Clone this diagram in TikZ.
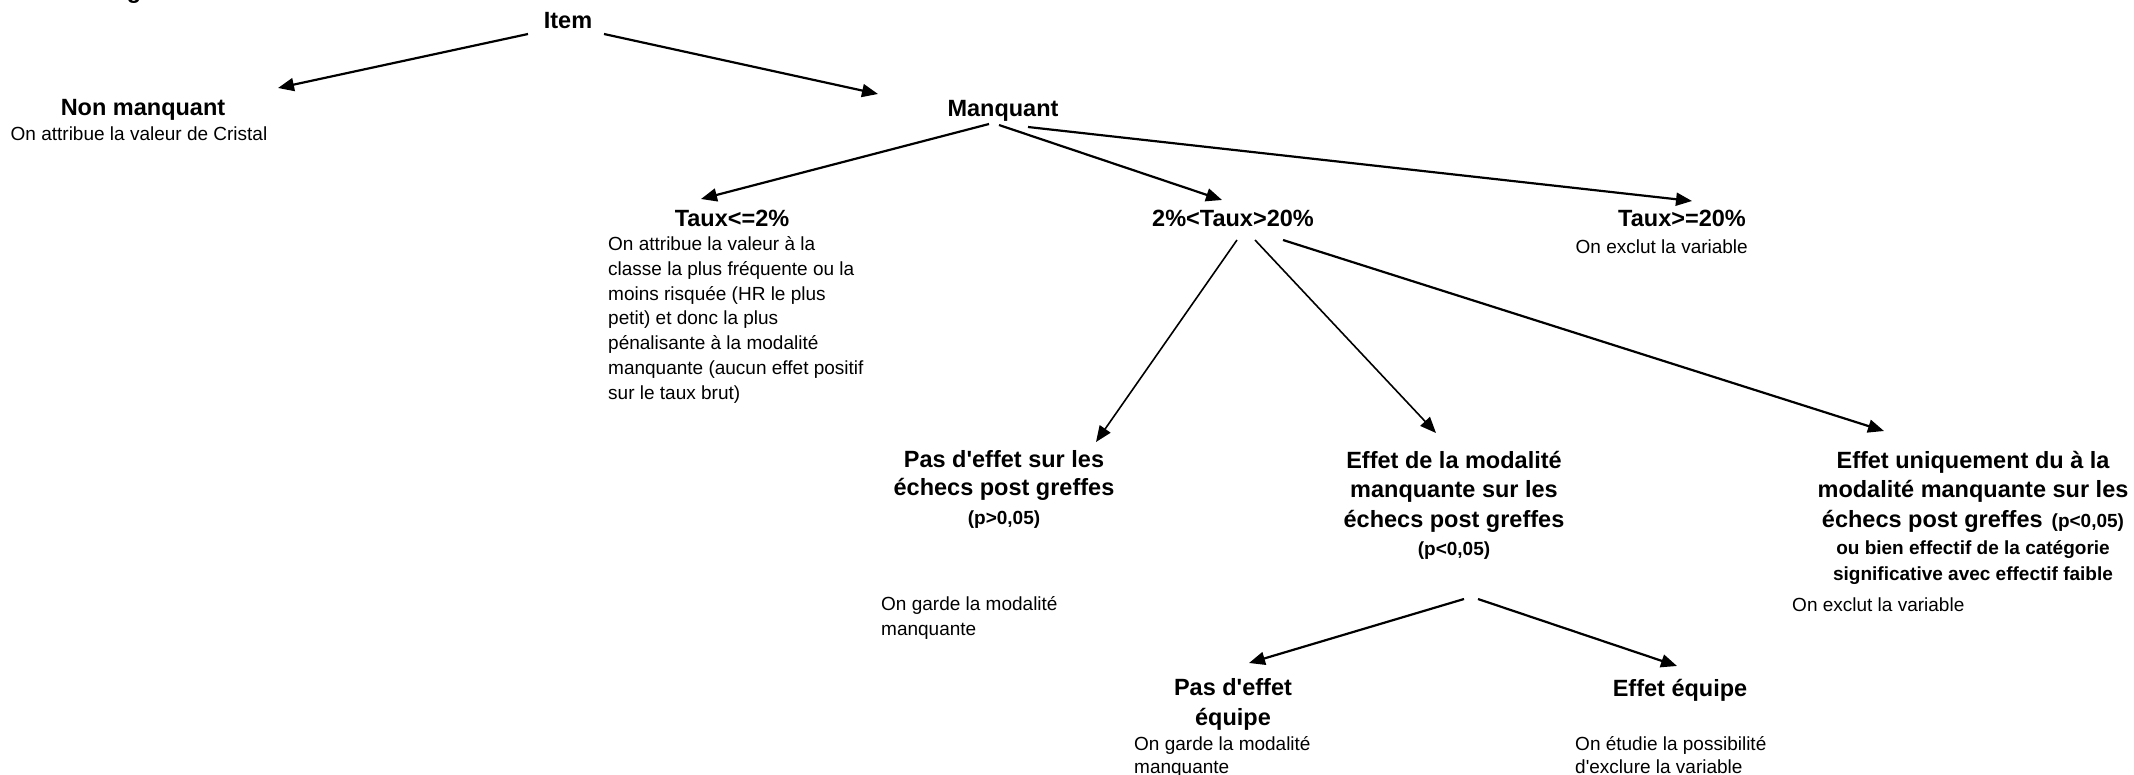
\documentclass[tikz,border=0pt]{standalone}
\usepackage{fontspec}
\setmainfont{Liberation Sans}[Ligatures=TeXOff]
\usetikzlibrary{arrows.meta}
\begin{document}
\begin{tikzpicture}[x=1pt,y=-1pt,
  hd/.style={font=\fontsize{23.5}{29.5}\selectfont\bfseries, inner sep=0pt, align=center, anchor=base},
  bd/.style={font=\fontsize{19}{24.7}\selectfont, inner sep=0pt, align=left, anchor=base west},
  bdc/.style={font=\fontsize{19}{24.7}\selectfont, inner sep=0pt, align=center, anchor=base},
  arr/.style={line width=2.2pt, -{Triangle[length=16pt,width=13pt]}},
  tarr/.style={line width=1.6pt, -{Triangle[length=16pt,width=13pt]}}]
\newcommand{\smb}[1]{{\fontsize{19}{24}\selectfont #1}}
\fill[white] (0,0) rectangle (2134,774);
\useasboundingbox (0,0) rectangle (2134,774);
\clip (0,0) rectangle (2134,774);

% (multi-line nodes are anchored at the baseline of their last line)
\node[hd] (g) at (134,-2) {g};

\node[hd] (item) at (568,28) {Item};
\node[hd] (nonm) at (143,115) {Non manquant};
\node[bdc] (nonmsub) at (139,140) {On attribue la valeur de Cristal};
\node[hd] (manq) at (1003,116) {Manquant};

\node[hd] (t2) at (732,226) {Taux<=2\%};
\node[bd] (t2sub) at (608,399) {On attribue la valeur à la\\classe la plus fréquente ou la\\moins risquée (HR le plus\\petit) et donc la plus\\pénalisante à la modalité\\manquante (aucun effet positif\\sur le taux brut)};
\node[hd] (t220) at (1233,226) {2\%<Taux>20\%};
\node[hd, anchor=base east] (t20) at (1746,226) {Taux>=20\%};
\node[bdc, anchor=base east] (t20sub) at (1748,253) {On exclut la variable};

\node[hd] (pas) at (1004,524) {Pas d'effet sur les\\[-1pt]échecs post greffes\\[-1pt]\smb{(p>0,05)}};
\node[bd] (passub) at (881,635.5) {On garde la modalité\\manquante};
\node[hd] (eff) at (1454,555.5) {Effet de la modalité\\manquante sur les\\échecs post greffes\\[-1pt]\smb{(p<0,05)}};
\node[hd] (uniq) at (1973,580) {Effet uniquement du à la\\modalité manquante sur les\\échecs post greffes\hspace{9pt}\smb{(p<0,05)}\\[-2.5pt]\smb{ou bien effectif de la catégorie}\\[-3.5pt]\smb{significative avec effectif faible}};
\node[bd] (uniqsub) at (1792,611) {On exclut la variable};

\node[hd] (pase) at (1233,725) {Pas d'effet\\équipe};
\node[bd, font=\fontsize{19}{23}\selectfont] (pasesub) at (1134,773) {On garde la modalité\\manquante};
\node[hd] (effe) at (1680,696.5) {Effet équipe};
\node[bd, font=\fontsize{19}{23}\selectfont] (effesub) at (1575,773) {On étudie la possibilité\\d'exclure la variable};

% connector end points
\coordinate (a1s) at (528,34);   \coordinate (a1e) at (278,88);
\coordinate (a2s) at (604,34);   \coordinate (a2e) at (878,94);
\coordinate (a3s) at (989,124);  \coordinate (a3e) at (701,199);
\coordinate (a4s) at (999,125);  \coordinate (a4e) at (1222,200);
\coordinate (a5s) at (1028,127); \coordinate (a5e) at (1692,201);
\coordinate (a6s) at (1237,240); \coordinate (a6e) at (1096,442);
\coordinate (a7s) at (1255,240); \coordinate (a7e) at (1436,433);
\coordinate (a8s) at (1283,240); \coordinate (a8e) at (1884,431);
\coordinate (a9s) at (1464,599); \coordinate (a9e) at (1249,663);
\coordinate (a10s) at (1478,599); \coordinate (a10e) at (1677,666);

\draw[arr] (a1s) -- (a1e);
\draw[arr] (a2s) -- (a2e);
\draw[arr] (a3s) -- (a3e);
\draw[arr] (a4s) -- (a4e);
\draw[arr] (a5s) -- (a5e);
\draw[tarr] (a6s) -- (a6e);
\draw[tarr] (a7s) -- (a7e);
\draw[arr] (a8s) -- (a8e);
\draw[arr] (a9s) -- (a9e);
\draw[arr] (a10s) -- (a10e);
\end{tikzpicture}
\end{document}
